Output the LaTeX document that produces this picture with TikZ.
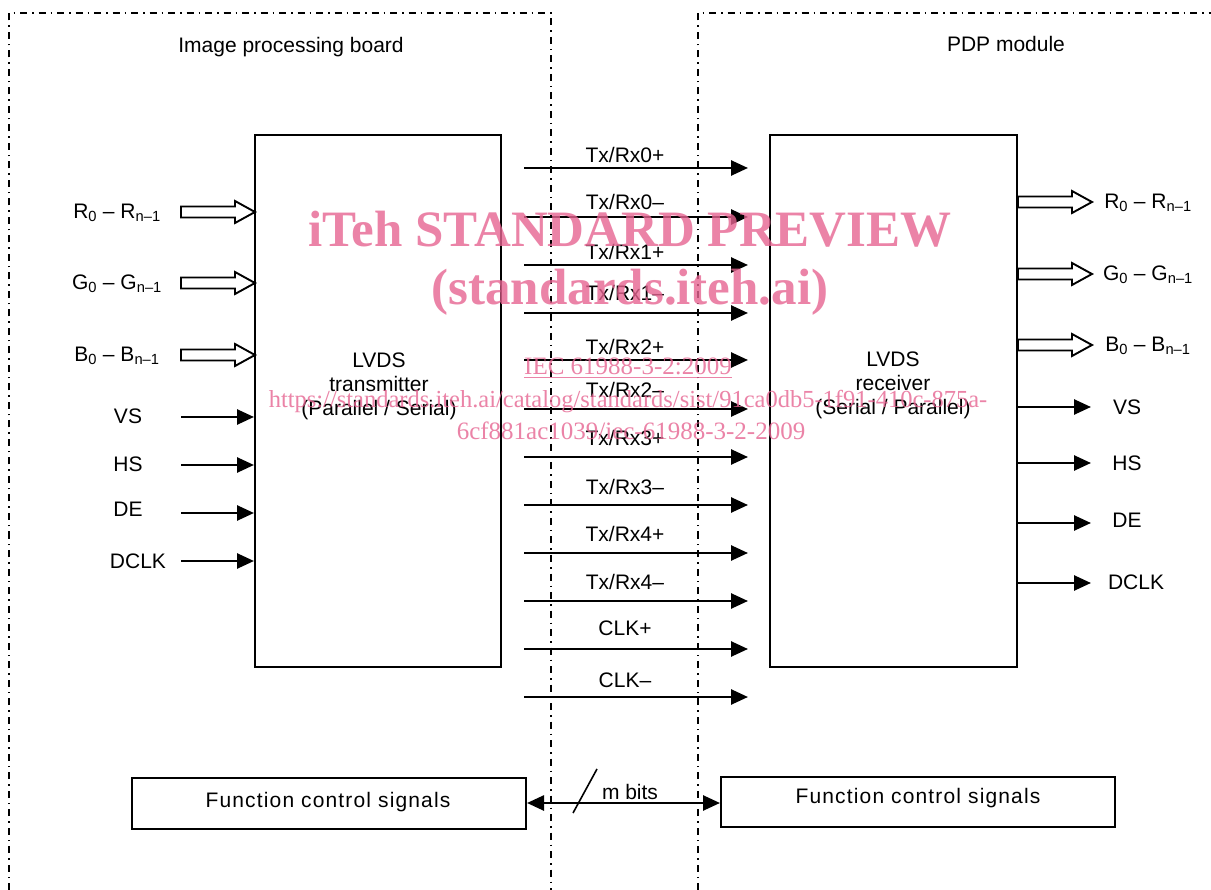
\documentclass[tikz,border=0pt]{standalone}
\usepackage{fontspec}
\setmainfont{Liberation Sans}
\newfontfamily\wmfont{Liberation Serif}
\usetikzlibrary{arrows.meta}
\definecolor{wmpink}{RGB}{230,100,145}
\begin{document}
\begin{tikzpicture}[x=1pt,y=-1pt,
  every node/.style={font=\fontsize{21}{24}\selectfont, inner sep=0pt},
  boundary/.style={line width=1.7pt, dash pattern=on 7pt off 5pt on 1.5pt off 5pt},
  block/.style={draw, line width=2pt, inner sep=0pt},
  sig/.style={line width=2.6pt, -{Triangle[length=17pt,width=15pt]}},
  dsig/.style={line width=2.6pt, {Triangle[length=17pt,width=15pt]}-{Triangle[length=17pt,width=15pt]}},
  fcs/.style={font=\fontsize{21}{24}\selectfont\addfontfeature{LetterSpace=5.5}},
  wm/.style={text=wmpink, text opacity=0.8, anchor=base},
  hollow/.pic={\draw[line width=1.9pt, fill=white]
     (0,-5.5) -- (54,-5.5) -- (54,-11) -- (74,0) -- (54,11) -- (54,5.5) -- (0,5.5) -- cycle;}
]
\useasboundingbox (0,0) rectangle (1211,890);
\fill[white] (0,0) rectangle (1211,890);

% board outlines
\draw[boundary] (9,890) -- (9,13) -- (551,13) -- (551,890);
\draw[boundary] (698,890) -- (698,13) -- (1211,13);
\node (tboard) at (291,47) {Image processing board};
\node (tpdp) at (1006,44) {PDP module};

% LVDS blocks
\node[block, minimum width=246pt, minimum height=532pt] (tx) at (378,401) {};
\node[block, minimum width=247pt, minimum height=532pt] (rx) at (893.5,401) {};
\node[align=center] (txt) at (379,386) {LVDS\\transmitter\\(Parallel / Serial)};
\node[align=center] (rxt) at (893,385) {LVDS\\receiver\\(Serial / Parallel)};

% LVDS pairs between the boards
\foreach \i/\lab/\y/\ly in {0/{Tx/Rx0+}/168/155, 1/{Tx/Rx0–}/217/202, 2/{Tx/Rx1+}/265/252,
    3/{Tx/Rx1–}/313/293, 4/{Tx/Rx2+}/360/347, 5/{Tx/Rx2–}/409/390, 6/{Tx/Rx3+}/457/438,
    7/{Tx/Rx3–}/505/487, 8/{Tx/Rx4+}/553/534, 9/{Tx/Rx4–}/601/582, 10/{CLK+}/649/628,
    11/{CLK–}/697/680}{
  \coordinate (ps\i) at (524,\y);
  \coordinate (pe\i) at (748,\y);
  \draw[sig] (ps\i) -- (pe\i);
  \node (pl\i) at (625,\ly) {\lab};
}

% parallel colour inputs
\foreach \n/\c/\y in {r/R/212, g/G/283, b/B/355}{
  \pic at (181,\y) {hollow};
  \node (in\n) at (117,\y+1) {\c\textsubscript{0} – \c\textsubscript{n–1}};
}
% parallel colour outputs
\foreach \n/\c/\y in {r/R/202, g/G/274, b/B/345}{
  \pic at (rx.east |- 0,\y) {hollow};
  \node (out\n) at (1148,\y+1) {\c\textsubscript{0} – \c\textsubscript{n–1}};
}

% timing inputs
\foreach \n/\lab/\y/\ly/\lx in {vs/VS/417/416/128, hs/HS/465/464/128, de/DE/513/509/128, ck/DCLK/561/561/138}{
  \coordinate (ti\n) at (181,\y);
  \draw[sig] (ti\n) -- (ti\n -| tx.west);
  \node (til\n) at (\lx,\ly) {\lab};
}
% timing outputs
\foreach \n/\lab/\y/\ly/\lx in {vs/VS/407/407/1127, hs/HS/463/463/1127, de/DE/523/520/1127, ck/DCLK/583/582/1136}{
  \coordinate (to\n) at (1091,\y);
  \draw[sig] (to\n -| rx.east) -- (to\n);
  \node (tol\n) at (\lx,\ly) {\lab};
}

% function control link
\node[block, minimum width=394pt, minimum height=51pt] (fcl) at (329,803.5) {};
\node[block, minimum width=394pt, minimum height=50pt] (fcr) at (918,802) {};
\node[fcs] (fclt) at (328,802) {Function control signals};
\node[fcs] (fcrt) at (918,798) {Function control signals};
\coordinate (busy) at (0,803);
\draw[dsig] (fcl.east |- busy) -- (fcr.west |- busy);
\coordinate (sl1) at (573,813);
\coordinate (sl2) at (597,769);
\draw[line width=1.6pt] (sl1) -- (sl2);
\node (mbits) at (630,792) {m bits};

% preview stamp
\node[wm, font=\wmfont\bfseries\fontsize{51}{54}\selectfont] (wm1) at (630,247) {iTeh STANDARD PREVIEW};
\node[wm, font=\wmfont\bfseries\fontsize{51}{54}\selectfont] (wm2) at (630,305) {(standards.iteh.ai)};
\node[wm, font=\wmfont\fontsize{25}{28}\selectfont] (wm3) at (628,375) {\underline{IEC 61988-3-2:2009}};
\node[wm, font=\wmfont\fontsize{24.5}{28}\selectfont] (wm4) at (628,408) {https://standards.iteh.ai/catalog/standards/sist/91ca0db5-1f91-410c-875a-};
\node[wm, font=\wmfont\fontsize{25}{28}\selectfont] (wm5) at (631,440) {6cf881ac1039/iec-61988-3-2-2009};
\end{tikzpicture}
\end{document}
